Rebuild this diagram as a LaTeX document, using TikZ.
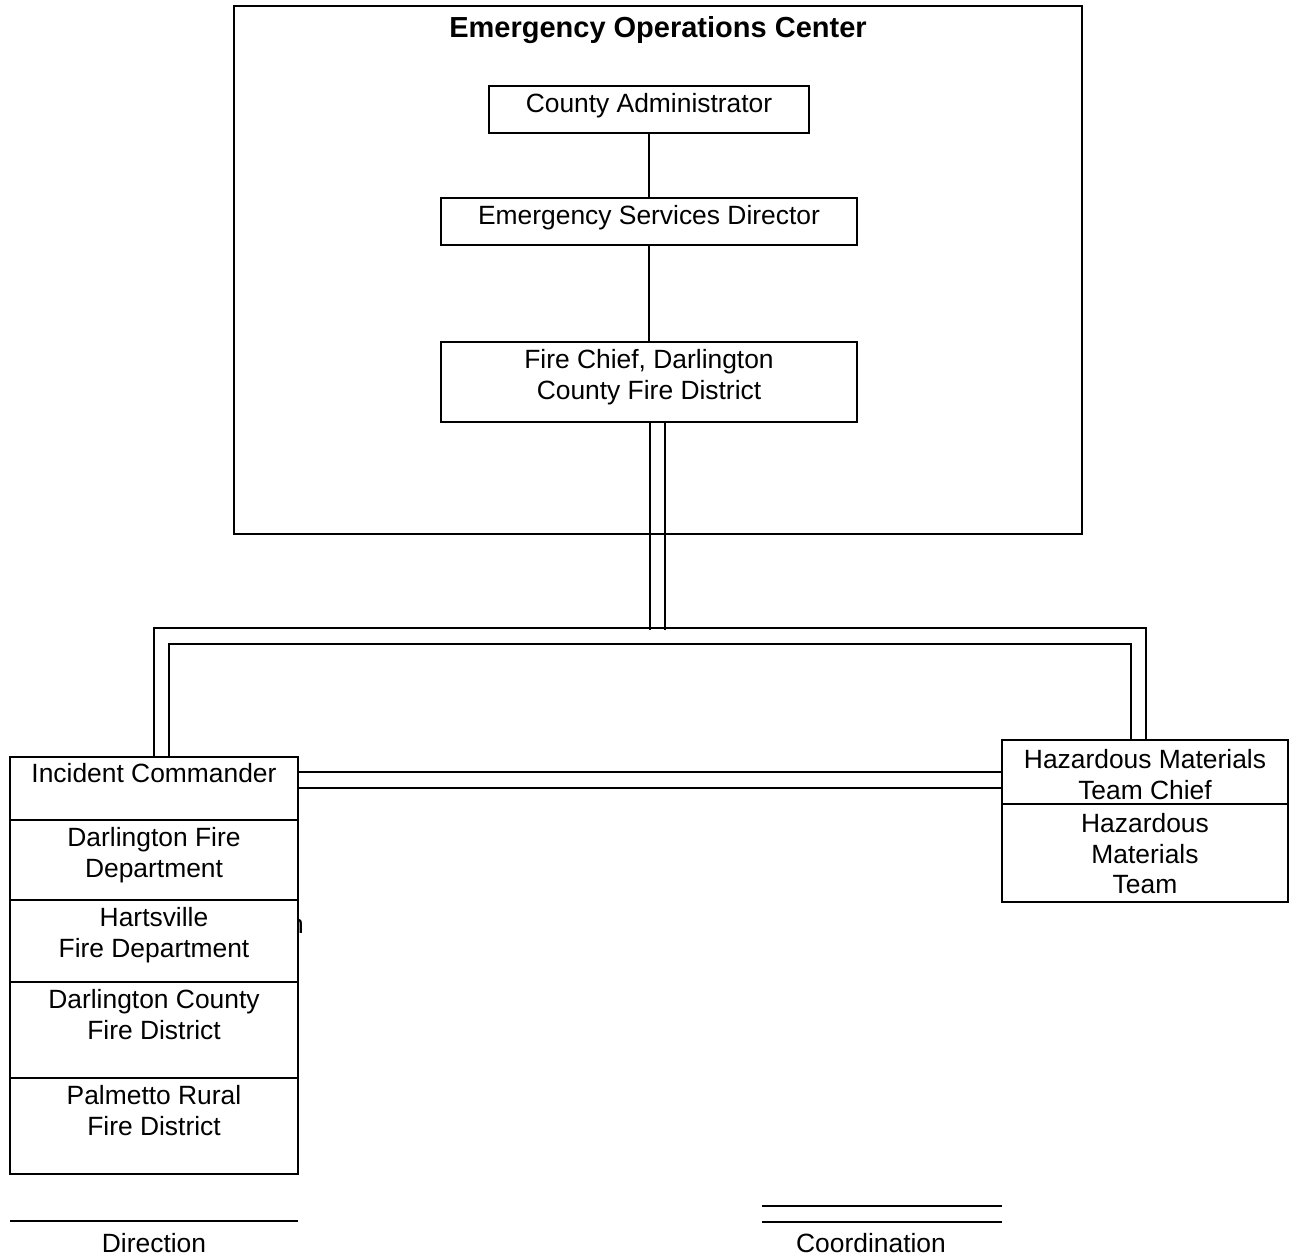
\documentclass[tikz,border=0pt]{standalone}
\usepackage{fontspec}
\setmainfont{Liberation Sans}
\begin{document}
\begin{tikzpicture}[x=1pt,y=-1pt,
  box/.style={draw,line width=1.5pt,fill=white,inner sep=0pt,minimum width=#1},
  txt/.style={font=\fontsize{26.4}{30.7}\selectfont,align=center,anchor=north,inner sep=0pt},
  ln/.style={line width=1.5pt}]
\useasboundingbox (0,0) rectangle (1289,1257);
% outer EOC frame
\node[box=848pt,minimum height=528pt] (EOC) at (658,270) {};
\node[txt,font=\fontsize{29}{33}\selectfont\bfseries] (EOCt) at (658,16) {Emergency Operations Center};
% top chain
\node[box=320pt,minimum height=47pt] (CA) at (649,109.5) {};
\node[box=416pt,minimum height=47pt] (ESD) at (649,221.5) {};
\node[box=416pt,minimum height=80pt] (FC) at (649,382) {};
\node[txt] (CAt) at (649,93) {County Administrator};
\node[txt] (ESDt) at (649,205) {Emergency Services Director};
\node[txt] (FCt) at (649,349) {Fire Chief, Darlington\\County Fire District};
\draw[ln] (CA) -- (ESD);
\draw[ln] (ESD) -- (FC);
% stray partially hidden letter
\node[font=\fontsize{26.4}{30.7}\selectfont,anchor=base east,inner sep=0pt] (stray) at (304,933) {n};
% left stack
\node[box=288pt,minimum height=63pt] (IC) at (154,788.5) {};
\node[box=288pt,minimum height=80pt] (DFD) at (154,860) {};
\node[box=288pt,minimum height=82pt] (HFD) at (154,941) {};
\node[box=288pt,minimum height=96pt] (DCFD) at (154,1030) {};
\node[box=288pt,minimum height=96pt] (PRFD) at (154,1126) {};
\node[txt] (ICt) at (154,763) {Incident Commander};
\node[txt] (DFDt) at (154,827) {Darlington Fire\\Department};
\node[txt] (HFDt) at (154,907) {Hartsville\\Fire Department};
\node[txt] (DCFDt) at (154,989) {Darlington County\\Fire District};
\node[txt] (PRFDt) at (154,1085) {Palmetto Rural\\Fire District};
% right stack
\node[box=286pt,minimum height=64pt] (HZC) at (1145,772) {};
\node[box=286pt,minimum height=98pt] (HZT) at (1145,853) {};
\node[txt] (HZCt) at (1145,749) {Hazardous Materials\\Team Chief};
\node[txt] (HZTt) at (1145,813) {Hazardous\\Materials\\Team};
% coordination links (double lines)
\coordinate (bTL) at (154,628);
\coordinate (bTR) at (1146,628);
\coordinate (bBL) at (169,644);
\coordinate (bBR) at (1131,644);
\draw[ln] (FC.south -| 650,0) -- (650,630);
\draw[ln] (FC.south -| 665,0) -- (665,630);
\draw[ln] (IC.north -| bTL) -- (bTL) -- (bTR) -- (HZC.north -| bTR);
\draw[ln] (IC.north -| bBL) -- (bBL) -- (bBR) -- (HZC.north -| bBR);
\draw[ln] (IC.east |- HZC.west) -- (HZC.west);
\draw[ln] ([yshift=0.5pt]IC.east) -- ([yshift=0.5pt]HZC.west |- IC.east);
% legend
\coordinate (dA) at (10,1221);
\coordinate (dB) at (298,1221);
\draw[ln] (dA) -- (dB);
\node[txt] (dirt) at (154,1233) {Direction};
\coordinate (cA1) at (762,1206);
\coordinate (cB1) at (1002,1206);
\coordinate (cA2) at (762,1222);
\coordinate (cB2) at (1002,1222);
\draw[ln] (cA1) -- (cB1);
\draw[ln] (cA2) -- (cB2);
\node[txt] (coort) at (871,1233) {Coordination};
\end{tikzpicture}
\end{document}
